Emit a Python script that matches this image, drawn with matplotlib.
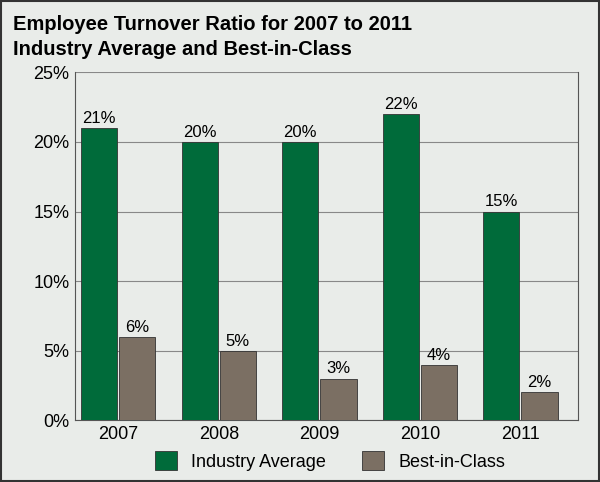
import matplotlib
matplotlib.use("Agg")
import matplotlib.pyplot as plt
import numpy as np

years = ["2007", "2008", "2009", "2010", "2011"]
industry = [21, 20, 20, 22, 15]
best = [6, 5, 3, 4, 2]
yticks = [0, 5, 10, 15, 20, 25]

plt.rcParams["font.family"] = "Liberation Sans"

green = "#006b3a"
brown = "#7b6f63"
bg = "#e9ece9"

fig = plt.figure(figsize=(6, 4.82), dpi=100, facecolor=bg)
fig.patches.append(plt.Rectangle((0.002, 0.002), 0.996, 0.996, transform=fig.transFigure,
                                 fill=False, edgecolor="#333333", linewidth=1.5))
ax = fig.add_axes([0.125, 0.128, 0.838, 0.722])
ax.set_facecolor(bg)
x = np.arange(len(years))
w = 0.36
b1 = ax.bar(x - w/2 - 0.01, industry, w, color=green, edgecolor="#333333", linewidth=0.6, label="Industry Average", zorder=3)
b2 = ax.bar(x + w/2 + 0.01, best, w, color=brown, edgecolor="#333333", linewidth=0.6, label="Best-in-Class", zorder=3)
for bars, vals in ((b1, industry), (b2, best)):
    for r, v in zip(bars, vals):
        ax.text(r.get_x() + r.get_width()/2, v + 0.15, f"{v}%", ha="center", va="bottom", fontsize=12, zorder=4)
ax.set_xlim(-0.43, 4.57)
ax.set_ylim(0, 25)
ax.set_yticks(yticks)
ax.set_yticklabels([f"{t}%" for t in yticks], fontsize=13)
ax.set_xticks(x)
ax.set_xticklabels(years, fontsize=13)
ax.yaxis.grid(True, color="#888888", linewidth=0.8, zorder=0)
ax.tick_params(length=0, pad=4)
ax.spines["top"].set_visible(False)
for s in ["left", "bottom", "right"]:
    ax.spines[s].set_color("#555555")
fig.text(0.022, 0.968, "Employee Turnover Ratio for 2007 to 2011", fontsize=14.5, fontweight="bold", va="top")
fig.text(0.022, 0.917, "Industry Average and Best-in-Class", fontsize=14.5, fontweight="bold", va="top")
fig.legend(loc="lower center", bbox_to_anchor=(0.55, -0.01), ncol=2, frameon=False, fontsize=13,
           handlelength=1.2, handleheight=1.2, columnspacing=2)
fig.savefig("out.png", dpi=100, facecolor=bg)
